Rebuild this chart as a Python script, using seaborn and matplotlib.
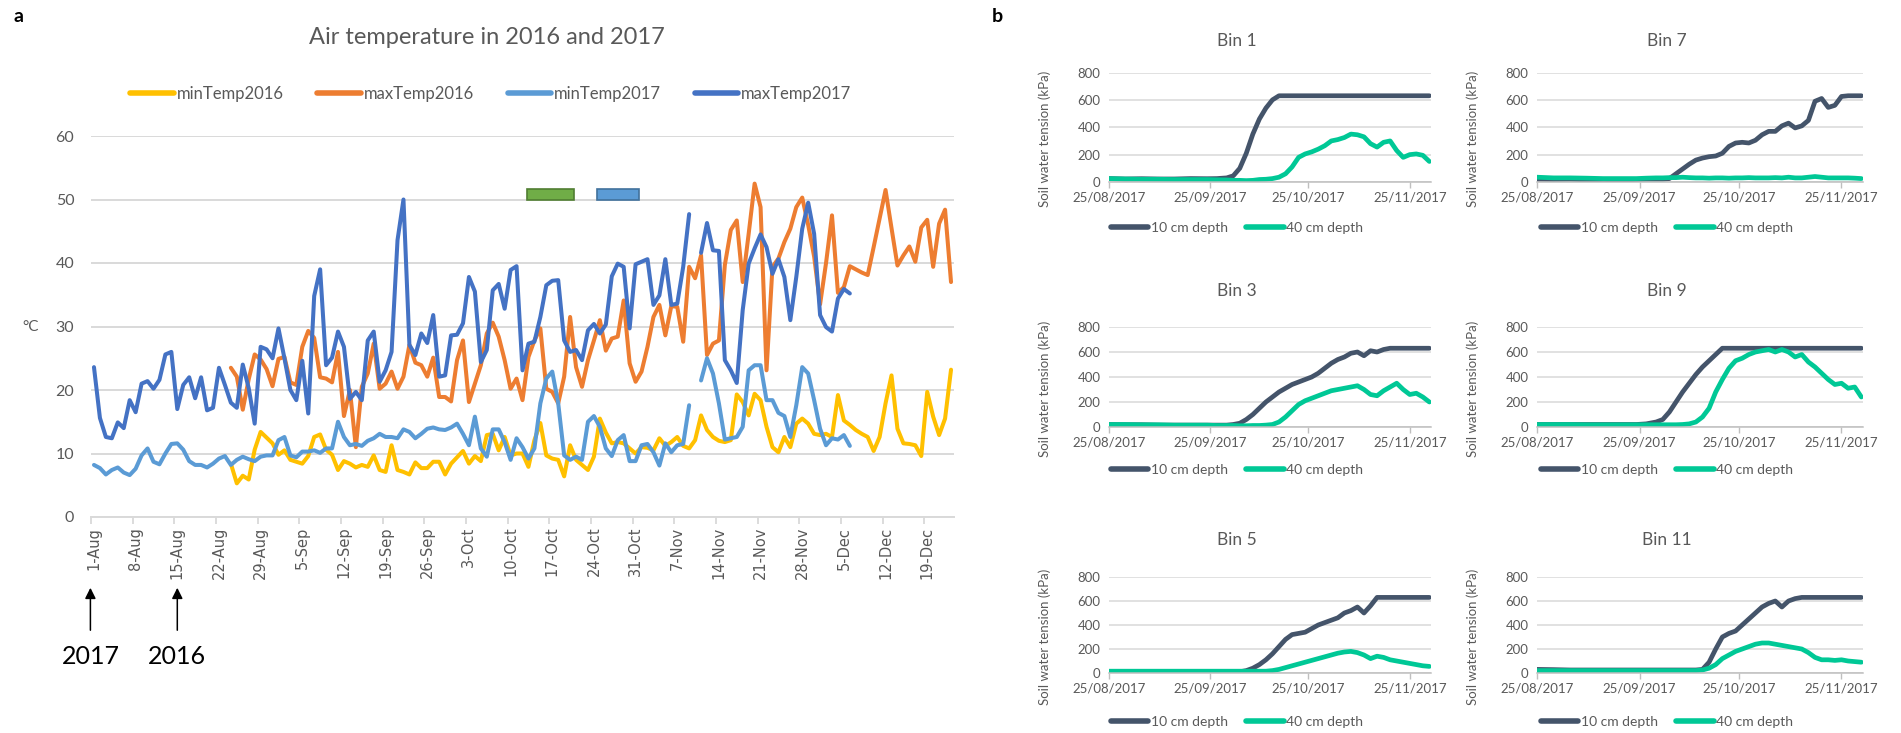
import numpy as np
import pandas as pd
import matplotlib
matplotlib.use("Agg")
import matplotlib.pyplot as plt
import seaborn as sns
from matplotlib.lines import Line2D
from matplotlib.patches import Rectangle

sns.set_theme(style="white")
plt.rcParams["font.family"] = ["Lato", "DejaVu Sans"]

NaN = np.nan

# ---------------- Panel a data (day index 0 = 1-Aug, 145 categories) ----------------
n_days = 145
week_labels = ["1-Aug", "8-Aug", "15-Aug", "22-Aug", "29-Aug", "5-Sep", "12-Sep", "19-Sep",
               "26-Sep", "3-Oct", "10-Oct", "17-Oct", "24-Oct", "31-Oct", "7-Nov", "14-Nov",
               "21-Nov", "28-Nov", "5-Dec", "12-Dec", "19-Dec"]

maxTemp2017 = [23.6, 15.6, 12.6, 12.4, 14.9, 14.0, 18.4, 16.5, 21.0, 21.4, 20.2, 21.6, 25.6, 26.0, 17.0,
               20.8, 22.0, 18.7, 22.0, 16.8, 17.2, 23.5, 20.8, 18.0, 17.2, 24.0, 20.3, 14.7, 26.8, 26.4,
               25.0, 29.7, 25.0, 20.0, 18.4, 24.6, 16.3, 34.8, 39.0, 23.9, 25.1, 29.2, 26.8, 18.6, 19.7,
               18.4, 27.8, 29.2, 21.3, 23.1, 26.0, 43.6, 50.0, 27.1, 25.5, 28.9, 27.4, 31.8, 22.1, 22.3,
               28.6, 28.7, 30.5, 37.8, 35.5, 24.4, 26.3, 35.7, 36.7, 32.8, 38.9, 39.5, 23.1, 27.3, 27.6,
               31.5, 36.5, 37.2, 37.3, 27.8, 26.0, 26.3, 24.7, 29.4, 30.4, 28.9, 30.3, 37.9, 39.9, 39.4,
               29.7, 39.8, 40.2, 40.6, 33.4, 34.9, 40.6, 33.4, 33.6, 39.4, 47.7, NaN, 41.6, 46.3, 42.0,
               41.9, 24.7, 23.1, 21.1, 32.6, 39.9, 42.3, 44.5, 42.5, 38.3, 40.6, 37.8, 31.0, 37.8, 45.4,
               49.5, 44.6, 31.8, 29.9, 29.2, 34.4, 35.9, 35.2]

minTemp2017 = [8.2, 7.7, 6.7, 7.4, 7.8, 7.0, 6.6, 7.6, 9.7, 10.8, 8.7, 8.3, 10.0, 11.5, 11.6,
               10.6, 8.8, 8.2, 8.2, 7.8, 8.4, 9.2, 9.6, 8.2, 9.0, 9.5, 9.1, 8.8, 9.5, 9.7,
               9.7, 12.1, 12.6, 9.7, 9.4, 10.3, 10.3, 10.5, 10.1, 10.8, 10.8, 15.0, 12.6, 11.3, 11.5,
               11.2, 12.0, 12.4, 13.1, 12.6, 12.6, 12.4, 13.8, 13.4, 12.4, 13.1, 13.9, 14.1, 13.8, 13.7,
               14.1, 14.7, 13.1, 11.3, 15.8, 10.8, 9.5, 13.8, 13.8, 11.8, 9.0, 12.4, 11.0, 9.2, 10.8,
               17.9, 21.8, 22.9, 17.9, 9.7, 9.0, 9.5, 9.0, 15.0, 15.9, 14.2, 10.8, 9.6, 12.1, 12.9,
               8.8, 8.8, 11.3, 11.5, 10.2, 8.1, 11.6, 10.2, 11.3, 11.5, 17.6, NaN, 21.5, 25.0, 22.6,
               17.9, 12.2, 12.4, 12.6, 14.2, 23.1, 23.9, 23.9, 18.4, 18.4, 16.4, 15.9, 12.6, 17.6, 23.6,
               22.6, 18.4, 13.9, 11.3, 12.4, 12.2, 12.9, 11.2]

start2016 = 23
maxTemp2016 = [23.5, 22.1, 16.9, 21.7, 25.6, 24.8, 23.3, 20.6, 24.9, 25.2, 21.2, 20.8, 26.8, 29.3, 28.2,
               22.0, 21.8, 21.2, 26.0, 15.9, 20.0, 11.0, 20.5, 22.6, 27.3, 20.2, 21.0, 22.9, 20.2, 22.1,
               27.1, 24.3, 23.9, 22.1, 25.1, 18.9, 18.9, 18.2, 24.7, 27.8, 18.1, 21.0, 23.9, 28.9, 30.6,
               28.4, 24.7, 20.2, 21.8, 18.4, 25.2, 27.8, 29.7, 20.2, 19.7, 17.9, 22.1, 31.5, 23.6, 20.5,
               24.7, 27.8, 31.0, 26.2, 28.1, 28.4, 34.1, 24.2, 21.3, 22.9, 26.8, 31.5, 33.4, 28.6, 33.2,
               33.1, 27.6, 39.4, 37.6, 41.2, 25.5, 27.3, 27.8, 39.7, 45.2, 46.7, 37.0, 44.6, 52.5, 48.8,
               23.1, 39.4, 40.7, 43.3, 45.4, 48.8, 50.3, 46.0, 41.0, 33.5, 40.0, 47.5, 35.3, 36.2, 39.5,
               39.0, 38.5, 38.1, 42.5, 47.0, 51.5, 45.5, 39.6, 41.2, 42.6, 40.2, 45.6, 46.8, 39.4, 46.2,
               48.4, 37.0]
minTemp2016 = [8.4, 5.3, 6.5, 5.9, 10.6, 13.4, 12.5, 11.6, 9.8, 10.5, 9.0, 8.7, 8.4, 9.6, 12.6,
               13.0, 10.6, 9.8, 7.4, 8.8, 8.4, 7.8, 8.2, 7.9, 9.7, 7.4, 7.1, 11.3, 7.4, 7.1,
               6.7, 8.6, 7.7, 7.7, 8.7, 8.7, 6.7, 8.4, 9.4, 10.4, 8.4, 9.6, 8.8, 12.9, 13.1,
               10.5, 12.6, 9.7, 10.0, 10.0, 7.9, 12.1, 14.8, 9.7, 9.2, 9.0, 6.4, 11.3, 9.0, 8.2,
               7.4, 9.5, 15.5, 13.3, 11.6, 11.8, 11.6, 10.8, 10.0, 11.0, 10.9, 10.5, 12.4, 11.2, 11.8,
               12.6, 11.2, 10.8, 12.1, 16.0, 13.7, 12.6, 12.0, 11.8, 12.1, 19.3, 18.1, 16.0, 19.4, 18.4,
               14.2, 11.0, 10.2, 12.6, 11.0, 14.7, 15.5, 14.7, 13.1, 12.9, 13.1, 12.6, 19.2, 15.2, 14.5,
               13.7, 13.1, 12.6, 10.4, 12.6, 17.9, 22.3, 13.9, 11.6, 11.5, 11.3, 9.6, 19.7, 15.8, 12.9,
               15.5, 23.2]

# flag boxes (day-index span, temperature span)
flag_green_span = (72.8, 80.6)
flag_blue_span = (84.6, 91.6)
flag_y_span = (50.0, 51.6)

# ---------------- Panel b data (day 0 = 25/08/2017) ----------------
soil_days = [0, 5, 10, 15, 20, 25, 30, 33, 36, 38, 40, 42, 44, 46, 48, 50, 52, 54, 56, 58,
             60, 62, 64, 66, 68, 70, 72, 74, 76, 78, 80, 82, 84, 86, 88, 90, 92, 94, 96, 98]
soil_tick_days = [0, 31, 61, 92]
soil_tick_labels = ["25/08/2017", "25/09/2017", "25/10/2017", "25/11/2017"]

bin1_10 = [25, 22, 24, 22, 22, 25, 24, 25, 30, 45, 100, 210, 350, 460, 540, 600, 630, 630, 630, 630,
           630, 630, 630, 630, 630, 630, 630, 630, 630, 630, 630, 630, 630, 630, 630, 630, 630, 630, 630, 630]
bin1_40 = [25, 22, 20, 20, 18, 18, 18, 16, 15, 12, 12, 10, 12, 18, 20, 25, 35, 60, 110, 180,
           205, 220, 240, 265, 300, 310, 325, 350, 345, 330, 280, 255, 290, 300, 230, 180, 200, 205, 195, 150]
bin7_10 = [20, 18, 20, 15, 18, 15, 18, 20, 20, 20, 25, 60, 95, 130, 160, 175, 185, 190, 210, 260,
           285, 290, 285, 305, 345, 370, 370, 410, 430, 395, 410, 450, 590, 610, 545, 560, 625, 630, 630, 630]
bin7_40 = [35, 30, 30, 28, 25, 25, 25, 28, 30, 30, 32, 32, 35, 32, 30, 30, 28, 30, 30, 28,
           30, 30, 32, 30, 30, 30, 32, 30, 35, 30, 30, 35, 40, 35, 30, 30, 30, 30, 28, 25]
bin3_10 = [20, 18, 18, 15, 15, 15, 15, 15, 15, 20, 30, 60, 100, 150, 200, 240, 280, 310, 340, 360,
           380, 400, 430, 470, 510, 540, 560, 590, 600, 570, 610, 600, 620, 630, 630, 630, 630, 630, 630, 630]
bin3_40 = [20, 20, 18, 18, 15, 15, 15, 12, 12, 12, 10, 10, 12, 12, 15, 20, 40, 80, 130, 180,
           210, 230, 250, 270, 290, 300, 310, 320, 330, 300, 260, 250, 290, 320, 350, 300, 260, 270, 240, 200]
bin9_10 = [20, 20, 20, 20, 20, 20, 20, 25, 40, 60, 120, 200, 280, 350, 420, 480, 530, 580, 630, 630,
           630, 630, 630, 630, 630, 630, 630, 630, 630, 630, 630, 630, 630, 630, 630, 630, 630, 630, 630, 630]
bin9_40 = [20, 20, 20, 18, 18, 18, 18, 18, 18, 18, 18, 18, 20, 25, 40, 80, 150, 280, 380, 470,
           530, 550, 580, 600, 610, 620, 600, 620, 600, 560, 580, 520, 480, 430, 380, 340, 350, 310, 320, 240]
bin5_10 = [10, 10, 10, 10, 10, 10, 10, 10, 10, 10, 10, 20, 40, 70, 110, 160, 220, 280, 320, 330,
           340, 370, 400, 420, 440, 460, 500, 520, 550, 500, 560, 630, 630, 630, 630, 630, 630, 630, 630, 630]
bin5_40 = [15, 15, 15, 15, 15, 15, 15, 15, 15, 15, 15, 15, 15, 15, 15, 20, 30, 45, 60, 75,
           90, 105, 120, 135, 150, 165, 175, 180, 170, 150, 120, 140, 130, 110, 100, 90, 80, 70, 60, 55]
bin11_10 = [30, 28, 25, 25, 25, 25, 25, 25, 25, 25, 25, 25, 25, 25, 25, 30, 90, 200, 300, 330,
            350, 400, 450, 500, 550, 580, 600, 550, 600, 620, 630, 630, 630, 630, 630, 630, 630, 630, 630, 630]
bin11_40 = [20, 20, 20, 20, 20, 20, 20, 20, 20, 20, 20, 20, 20, 20, 20, 25, 40, 70, 120, 150,
            180, 200, 220, 240, 250, 250, 240, 230, 220, 210, 200, 170, 130, 110, 110, 105, 110, 100, 95, 90]

bins = [("Bin 1", bin1_10, bin1_40), ("Bin 3", bin3_10, bin3_40), ("Bin 5", bin5_10, bin5_40),
        ("Bin 7", bin7_10, bin7_40), ("Bin 9", bin9_10, bin9_40), ("Bin 11", bin11_10, bin11_40)]

# ---------------- styling ----------------
C_MIN16, C_MAX16, C_MIN17, C_MAX17 = "#FFC000", "#ED7D31", "#5B9BD5", "#4472C4"
C_10, C_40 = "#44546A", "#00C896"
GRID = "#D9D9D9"
TXT = "#595959"

W, H = 1901, 733
fig = plt.figure(figsize=(W / 100, H / 100), dpi=100)


def ax_px(l, t, r, b):
    return fig.add_axes([l / W, 1 - b / H, (r - l) / W, (b - t) / H])


def ftext(x, y, s, **kw):
    return fig.text(x / W, 1 - y / H, s, **kw)


def seg_lineplot(ax, x, y, color, lw):
    x = np.asarray(x, float)
    y = np.asarray(y, float)
    ok = ~np.isnan(y)
    idx = np.flatnonzero(ok)
    if len(idx) == 0:
        return
    breaks = np.flatnonzero(np.diff(idx) > 1)
    starts = np.r_[0, breaks + 1]
    ends = np.r_[breaks, len(idx) - 1]
    for s, e in zip(starts, ends):
        sel = idx[s:e + 1]
        df = pd.DataFrame({"x": x[sel], "y": y[sel]})
        sns.lineplot(data=df, x="x", y="y", ax=ax, color=color, lw=lw, estimator=None,
                     sort=False, legend=False, solid_joinstyle="round", solid_capstyle="round")


# ---------------- Panel a ----------------
ax = ax_px(91, 136, 954, 517)
days = np.arange(n_days)
series = [
    (np.r_[np.full(start2016, NaN), minTemp2016], C_MIN16),
    (np.r_[np.full(start2016, NaN), maxTemp2016], C_MAX16),
    (np.r_[minTemp2017, np.full(n_days - len(minTemp2017), NaN)], C_MIN17),
    (np.r_[maxTemp2017, np.full(n_days - len(maxTemp2017), NaN)], C_MAX17),
]
for vals, col in series:
    seg_lineplot(ax, days, vals, col, 2.9)

ax.set_xlim(-0.5, n_days - 0.5)
ax.set_ylim(0, 60)
ax.set_yticks(range(0, 61, 10))
ax.yaxis.grid(True, color=GRID, lw=1.4)
ax.set_axisbelow(True)
for s in ["top", "right", "left"]:
    ax.spines[s].set_visible(False)
ax.spines["bottom"].set_color(GRID)
ax.spines["bottom"].set_linewidth(1.4)
ax.set_xticks(np.arange(0, n_days, 7))
ax.set_xticklabels(week_labels, rotation=90, fontsize=10.5, color=TXT, family="DejaVu Sans")
ax.set_xticks(np.arange(-0.5, n_days - 1, 7), minor=True)
ax.tick_params(axis="x", which="major", length=0, pad=7)
ax.tick_params(axis="x", which="minor", length=5, width=1.3, color=GRID, direction="out", bottom=True)
ax.tick_params(axis="y", length=0, pad=12, labelsize=11.5, labelcolor=TXT)
ax.set_xlabel("")
ax.set_ylabel("")

for span, fc, ec in [(flag_green_span, "#70AD47", "#507E32"), (flag_blue_span, "#5B9BD5", "#41719C")]:
    ax.add_patch(Rectangle((span[0], flag_y_span[0]), span[1] - span[0], flag_y_span[1] - flag_y_span[0],
                           facecolor=fc, edgecolor=ec, lw=1.2, zorder=3))

ftext(487, 37, "Air temperature in 2016 and 2017", ha="center", va="center", fontsize=17, color=TXT)
handles = [Line2D([], [], color=c, lw=4) for c in [C_MIN16, C_MAX16, C_MIN17, C_MAX17]]
fig.legend(handles, ["minTemp2016", "maxTemp2016", "minTemp2017", "maxTemp2017"], loc="center",
           bbox_to_anchor=(491 / W, 1 - 94 / H), ncol=4, frameon=False, fontsize=12,
           handlelength=2.6, handletextpad=0.2, columnspacing=2.0, labelcolor=TXT)
ftext(31, 327, "°C", ha="center", va="center", fontsize=11, color=TXT)
ftext(18, 16, "a", ha="center", va="center", fontsize=14, fontweight="bold", color="black")

# year arrows
arrow_days = [-0.6, 14]
arrow_years = ["2017", "2016"]
for d, yr in zip(arrow_days, arrow_years):
    ax.annotate("", xy=(d, (517 - 585) / 381), xytext=(d, (517 - 633) / 381),
                xycoords=ax.get_xaxis_transform(), textcoords=ax.get_xaxis_transform(),
                arrowprops=dict(arrowstyle="-|>", color="black", lw=1.1, mutation_scale=16),
                annotation_clip=False)
    ax.text(d, (517 - 656) / 381, yr, transform=ax.get_xaxis_transform(), ha="center", va="center",
            fontsize=18, color="black", clip_on=False)

# ---------------- Panel b ----------------
ftext(997, 16, "b", ha="center", va="center", fontsize=14, fontweight="bold", color="black")
col_x = [(1109, 1431), (1537, 1863)]
row_y = [(72.5, 182), (327, 427), (577, 673)]
title_y = [40.5, 291, 540]
legend_y = [228, 470, 722]

for k, (name, v10, v40) in enumerate(bins):
    c = k // 3
    r = k % 3
    l, rr = col_x[c]
    t, b = row_y[r]
    a = ax_px(l, t, rr, b)
    seg_lineplot(a, soil_days, v10, C_10, 3.4)
    seg_lineplot(a, soil_days, v40, C_40, 3.4)
    a.set_xlim(0, 98.5)
    a.set_ylim(0, 800)
    a.set_yticks(range(0, 801, 200))
    a.yaxis.grid(True, color=GRID, lw=1.1)
    a.set_axisbelow(True)
    for s in ["top", "right", "left"]:
        a.spines[s].set_visible(False)
    a.spines["bottom"].set_color("#BFBFBF")
    a.spines["bottom"].set_linewidth(1.1)
    a.set_xticks(soil_tick_days)
    a.set_xticklabels(soil_tick_labels, fontsize=9.5, color=TXT)
    a.tick_params(axis="x", length=4, width=1, color="#BFBFBF", direction="out", bottom=True, pad=3)
    a.tick_params(axis="y", length=0, pad=6, labelsize=9.5, labelcolor=TXT)
    a.set_xlabel("")
    a.set_ylabel("")
    chart_cx = l - 33 + (rr - l) / 2
    ftext(chart_cx, title_y[r], name, ha="center", va="center", fontsize=12.5, color=TXT)
    ftext(l - 64, (t + b) / 2 + 12, "Soil water tension (kPa)", ha="center", va="center",
          rotation=90, fontsize=9.5, color=TXT)
    hs = [Line2D([], [], color=C_10, lw=4), Line2D([], [], color=C_40, lw=4)]
    fig.legend(hs, ["10 cm depth", "40 cm depth"], loc="center",
               bbox_to_anchor=(chart_cx / W, 1 - legend_y[r] / H), ncol=2, frameon=False,
               fontsize=10, handlelength=2.7, handletextpad=0.2, columnspacing=1.3, labelcolor=TXT)

fig.savefig("out.png", dpi=100)
